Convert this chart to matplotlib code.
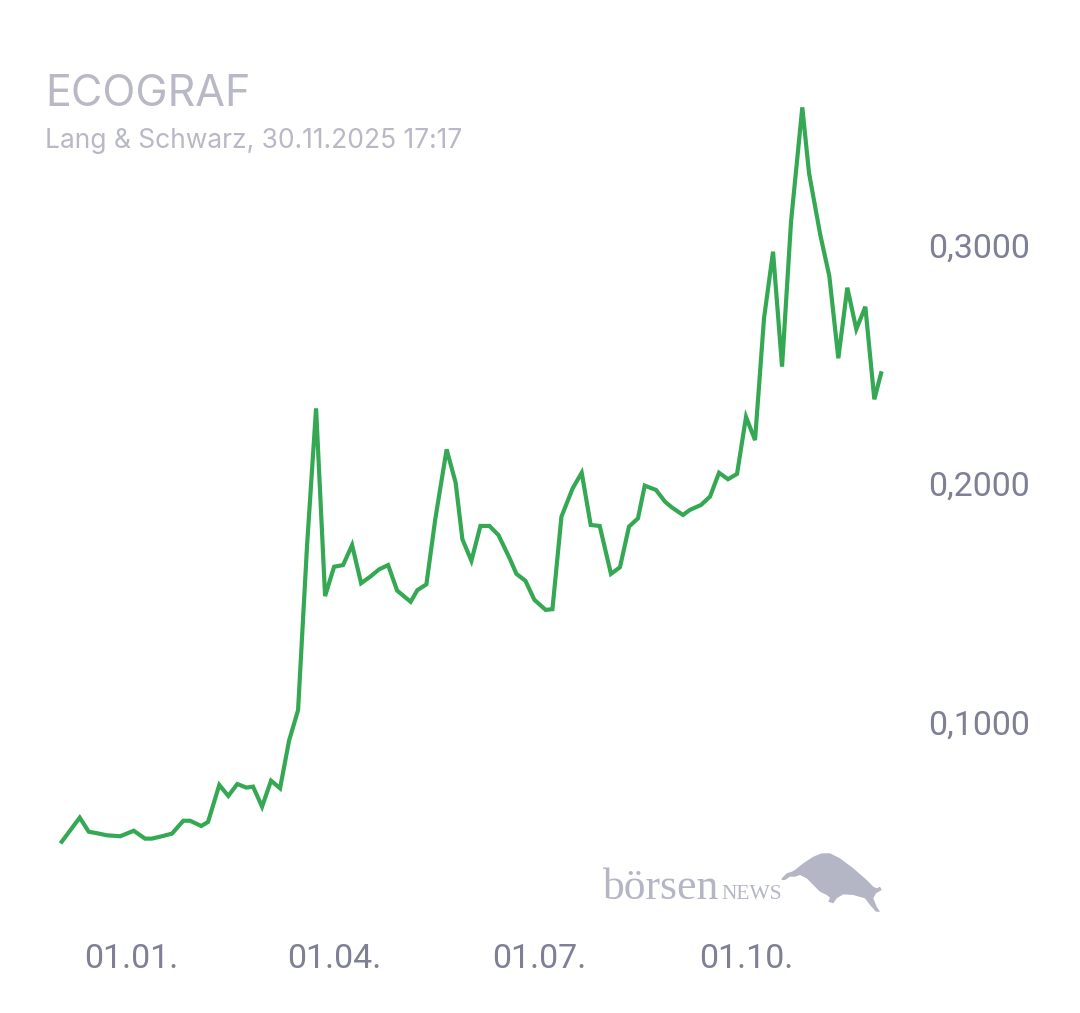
import matplotlib
matplotlib.use("Agg")
from matplotlib import pyplot as plt
import matplotlib.dates as mdates
from matplotlib.patches import Polygon
import pandas as pd

DATES = [
    "2024-12-01", "2024-12-09", "2024-12-13", "2024-12-17", "2024-12-21", "2024-12-27",
    "2025-01-02", "2025-01-07", "2025-01-10", "2025-01-15", "2025-01-19", "2025-01-24",
    "2025-01-27", "2025-02-01", "2025-02-04", "2025-02-09", "2025-02-13", "2025-02-17",
    "2025-02-21", "2025-02-24", "2025-02-28", "2025-03-04", "2025-03-08", "2025-03-12",
    "2025-03-16", "2025-03-20", "2025-03-24", "2025-03-28", "2025-04-01", "2025-04-05",
    "2025-04-09", "2025-04-13", "2025-04-17", "2025-04-21", "2025-04-25", "2025-04-29",
    "2025-05-05", "2025-05-08", "2025-05-12", "2025-05-16", "2025-05-21", "2025-05-25",
    "2025-05-28", "2025-06-01", "2025-06-05", "2025-06-09", "2025-06-13", "2025-06-18",
    "2025-06-21", "2025-06-25", "2025-06-29", "2025-07-04", "2025-07-07", "2025-07-11",
    "2025-07-16", "2025-07-20", "2025-07-24", "2025-07-28", "2025-08-02", "2025-08-06",
    "2025-08-10", "2025-08-14", "2025-08-17", "2025-08-22", "2025-08-26", "2025-08-29",
    "2025-09-03", "2025-09-06", "2025-09-11", "2025-09-15", "2025-09-19", "2025-09-23",
    "2025-09-27", "2025-10-01", "2025-10-05", "2025-10-09", "2025-10-13", "2025-10-17",
    "2025-10-21", "2025-10-26", "2025-10-29", "2025-11-03", "2025-11-07", "2025-11-11",
    "2025-11-15", "2025-11-19", "2025-11-23", "2025-11-27", "2025-11-30",
]
PRICES = [
    0.0498, 0.0599, 0.0540, 0.0533, 0.0525, 0.0521,
    0.0544, 0.0511, 0.0511, 0.0522, 0.0532, 0.0586,
    0.0586, 0.0564, 0.0581, 0.0736, 0.0690, 0.0740,
    0.0725, 0.0729, 0.0645, 0.0754, 0.0722, 0.0922,
    0.1050, 0.1742, 0.2315, 0.1528, 0.1651, 0.1658,
    0.1742, 0.1582, 0.1609, 0.1640, 0.1658, 0.1551,
    0.1504, 0.1553, 0.1577, 0.1854, 0.2143, 0.2003,
    0.1766, 0.1676, 0.1822, 0.1822, 0.1784, 0.1686,
    0.1621, 0.1592, 0.1512, 0.1470, 0.1473, 0.1861,
    0.1980, 0.2045, 0.1826, 0.1822, 0.1621, 0.1649,
    0.1819, 0.1854, 0.1991, 0.1973, 0.1924, 0.1900,
    0.1868, 0.1889, 0.1910, 0.1945, 0.2045, 0.2018,
    0.2040, 0.2279, 0.2182, 0.2693, 0.2972, 0.2490,
    0.3098, 0.3577, 0.3301, 0.3042, 0.2870, 0.2525,
    0.2821, 0.2647, 0.2741, 0.2353, 0.2462,
]
Y_TICKS = [0.1, 0.2, 0.3]
X_TICKS = ["2025-01-01", "2025-04-01", "2025-07-01", "2025-10-01"]

TITLE = "ECOGRAF"
SUBTITLE = "Lang & Schwarz, 30.11.2025 17:17"

LINE_COLOR = "#34a853"
TICK_COLOR = "#7f8096"
TITLE_COLOR = "#b8b8c6"
LOGO_COLOR = "#b4b5c5"

W, H = 1080, 1013
fig = plt.figure(figsize=(W / 100, H / 100), dpi=100)
fig.patch.set_facecolor("white")

# axes box in pixels (left, top, right, bottom)
L, T, R, B = 40, 90, 900, 900
ax = fig.add_axes([L / W, 1 - B / H, (R - L) / W, (B - T) / H])

dates = pd.to_datetime(DATES)
ax.plot(dates, PRICES, color=LINE_COLOR, lw=3.0, solid_joinstyle="miter")

jan1 = pd.Timestamp("2025-01-01")
px_per_day = 2.251
ax.set_xlim(jan1 + pd.Timedelta(days=(L - 131.5) / px_per_day),
            jan1 + pd.Timedelta(days=(R - 131.5) / px_per_day))
ax.set_ylim((960.5 - B) / 2385, (960.5 - T) / 2385)

for s in ax.spines.values():
    s.set_visible(False)
ax.set_facecolor("none")

ax.yaxis.tick_right()
ax.set_yticks(Y_TICKS)
ax.set_yticklabels([f"{v:.4f}".replace(".", ",") for v in Y_TICKS])
ax.set_xticks(pd.to_datetime(X_TICKS))
ax.xaxis.set_major_formatter(mdates.DateFormatter("%d.%m."))
ax.tick_params(axis="both", length=0, labelsize=24.5, labelcolor=TICK_COLOR)
ax.tick_params(axis="y", pad=20)
ax.tick_params(axis="x", pad=31)
for lab in ax.get_xticklabels() + ax.get_yticklabels():
    lab.set_family(["Roboto", "DejaVu Sans"])

# Titel
fig.text(45 / W, 1 - 106 / H, TITLE, fontsize=31, color=TITLE_COLOR,
         family=["Inter", "DejaVu Sans"], ha="left", va="baseline")
fig.text(45 / W, 1 - 148 / H, SUBTITLE, fontsize=19, color=TITLE_COLOR,
         family=["Inter", "DejaVu Sans"], ha="left", va="baseline")

# Logo
fig.text(602 / W, 1 - 899 / H, "börsen", fontsize=31.5, color=LOGO_COLOR,
         family=["Liberation Serif", "DejaVu Serif"], ha="left", va="baseline")
fig.text(721 / W, 1 - 899 / H, "NEWS", fontsize=15.5, color=LOGO_COLOR,
         family=["Liberation Serif", "DejaVu Serif"], ha="left", va="baseline")
bull_px = [(781.7, 878.3), (786.7, 873.3), (791.7, 871.7), (795, 870), (803.3, 863.3),
           (813.3, 856.7), (821.7, 853.3), (830, 853.3), (840, 858.3), (853.3, 868.3),
           (866.7, 880), (873.3, 886.7), (876.7, 888.3), (880, 886.7), (881.7, 890),
           (876, 893.3), (873.3, 898.3), (876.7, 906.7), (880, 911.7), (876, 911.7),
           (870, 905), (865, 898.3), (853.3, 895), (843.3, 894.3), (836.7, 898.3),
           (833.3, 903.3), (828.3, 901.7), (830, 897.7), (826.7, 895), (820, 891.7),
           (813.3, 885), (806.7, 878.3), (800, 875), (795, 876.7), (790, 876.7),
           (785, 880), (781.7, 880)]
bull = Polygon([(x / W, 1 - y / H) for x, y in bull_px], closed=True,
               transform=fig.transFigure, facecolor=LOGO_COLOR, edgecolor="none")
fig.patches.append(bull)

fig.savefig("out.png", dpi=100, facecolor="white")
